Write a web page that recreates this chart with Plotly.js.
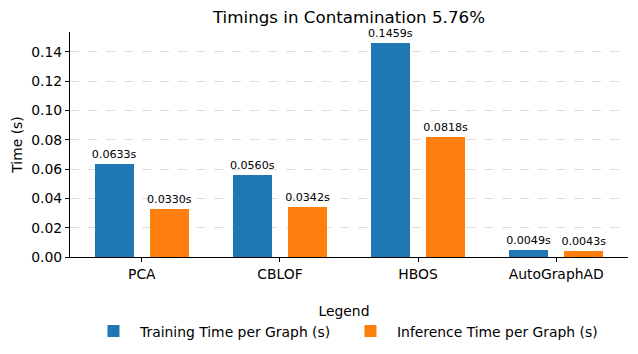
<!DOCTYPE html>
<html><head><meta charset="utf-8">
<script src="https://cdn.plot.ly/plotly-3.0.1.min.js"></script>
<style>html,body{margin:0;padding:0;background:#fff}#c{width:638px;height:354px}</style>
</head><body><div id="c"></div>
<script>
const categories = ["PCA", "CBLOF", "HBOS", "AutoGraphAD"];
const trainingTimes = [0.0633, 0.0560, 0.1459, 0.0049];
const inferenceTimes = [0.0330, 0.0342, 0.0818, 0.0043];
const seriesNames = ["Training Time per Graph (s)", "Inference Time per Graph (s)"];
const yTicks = [0, 0.02, 0.04, 0.06, 0.08, 0.10, 0.12, 0.14];

const fmt = v => v.toFixed(4) + "s";
const font = "DejaVu Sans, sans-serif";

const traces = [
  {type:"bar", x:categories, y:trainingTimes, name:seriesNames[0],
   marker:{color:"#1f77b4"}, offset:-0.34, width:0.28,
   text:trainingTimes.map(fmt), textposition:"outside", cliponaxis:false, constraintext:"none",
   textfont:{size:11.1, color:"#000", family:font}},
  {type:"bar", x:categories, y:inferenceTimes, name:seriesNames[1],
   marker:{color:"#ff7f0e"}, offset:0.06, width:0.28,
   text:inferenceTimes.map(fmt), textposition:"outside", cliponaxis:false, constraintext:"none",
   textfont:{size:11.1, color:"#000", family:font}}
];

const layout = {
  width:638, height:354,
  margin:{l:70, r:10, t:32, b:97, autoexpand:false},
  paper_bgcolor:"#fff", plot_bgcolor:"#fff",
  font:{family:font, color:"#000", size:13.9},
  title:{text:"Timings in Contamination 5.76%", font:{size:16.7, family:font, color:"#000"},
         x:0.547, xanchor:"center", yref:"container", y:0.952, yanchor:"middle"},
  xaxis:{type:"category", range:[-0.52, 3.52], showline:true, linecolor:"#000", linewidth:1,
         ticks:"outside", ticklen:4, tickcolor:"#000", showgrid:false, zeroline:false,
         tickfont:{size:13.9}},
  yaxis:{range:[0, 0.1536], tickvals:yTicks, tickformat:".2f", showline:true, linecolor:"#000",
         linewidth:1, ticks:"outside", ticklen:4, tickcolor:"#000",
         showgrid:true, gridcolor:"#dcdcdc", griddash:"dash", gridwidth:1, zeroline:false,
         title:{text:"Time (s)", font:{size:13.9}, standoff:5}, tickfont:{size:13.9}},
  showlegend:true,
  legend:{orientation:"h", x:0.491, xanchor:"center", y:-0.18, yanchor:"top",
          title:{text:"Legend", side:"top center", font:{size:13.9}},
          font:{size:13.9}, itemwidth:43, entrywidth:199, entrywidthmode:"pixels", tracegroupgap:0},
  bargap:0
};

Plotly.newPlot("c", traces, layout, {staticPlot:true, displayModeBar:false});
</script></body></html>
